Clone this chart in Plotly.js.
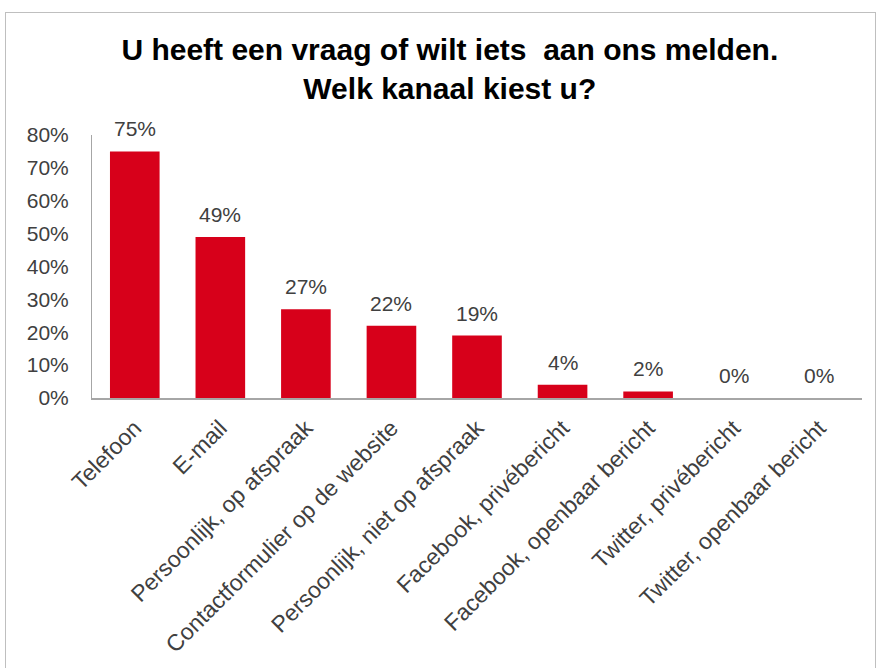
<!DOCTYPE html>
<html><head><meta charset="utf-8">
<script src="https://cdn.plot.ly/plotly-3.0.1.min.js"></script>
<style>
body{margin:0;background:#fff;}
#frame{position:absolute;left:5px;top:12px;width:871px;height:700px;border:1px solid #bfbfbf;box-sizing:border-box;}
#chart{position:absolute;left:0;top:0;width:882px;height:668px;}
</style></head>
<body>
<div id="frame"></div>
<div id="chart"></div>
<script>
const categories = ["Telefoon","E-mail","Persoonlijk, op afspraak","Contactformulier op de website","Persoonlijk, niet op afspraak","Facebook, privébericht","Facebook, openbaar bericht","Twitter, privébericht","Twitter, openbaar bericht"];
const values = [0.75,0.49,0.27,0.22,0.19,0.04,0.02,0,0];
const tickVals = [0,0.1,0.2,0.3,0.4,0.5,0.6,0.7,0.8];
const tickText = ["0%","10%","20%","30%","40%","50%","60%","70%","80%"];

const FONT = 'Liberation Sans, Arial, sans-serif';
const annotations = categories.map((c,i)=>({
  x:c, y:values[i], xref:'x', yref:'y', text:Math.round(values[i]*100)+'%',
  showarrow:false, yanchor:'bottom', yshift:9,
  font:{family:FONT,size:21,color:'#404040'}
}));

Plotly.newPlot('chart',[{
  type:'bar', x:categories, y:values,
  marker:{color:'#d7001a'},
  hoverinfo:'none'
}],{
  width:882,height:668,
  paper_bgcolor:'rgba(0,0,0,0)',plot_bgcolor:'rgba(0,0,0,0)',
  margin:{l:92,r:20,t:135,b:270},
  bargap:0.42,
  showlegend:false,
  annotations:annotations,
  title:{text:'<b>U heeft een vraag of wilt iets  aan ons melden.<br>Welk kanaal kiest u?</b>',
    x:0.51,xanchor:'center',y:0.91,yanchor:'top',
    font:{family:FONT,size:30,color:'#000'}},
  xaxis:{tickangle:-45,showline:true,linecolor:'#a6a6a6',linewidth:1.5,
    ticks:'outside',ticklen:6,tickcolor:'rgba(0,0,0,0)',
    tickfont:{family:FONT,size:23,color:'#404040'},fixedrange:true},
  yaxis:{range:[0,0.8],tickvals:tickVals,ticktext:tickText,showgrid:false,zeroline:false,
    showline:true,linecolor:'#a6a6a6',linewidth:1,
    ticks:'outside',ticklen:18,tickcolor:'rgba(0,0,0,0)',
    tickfont:{family:FONT,size:21,color:'#404040'}}
},{displayModeBar:false,staticPlot:true});
</script>
</body></html>
